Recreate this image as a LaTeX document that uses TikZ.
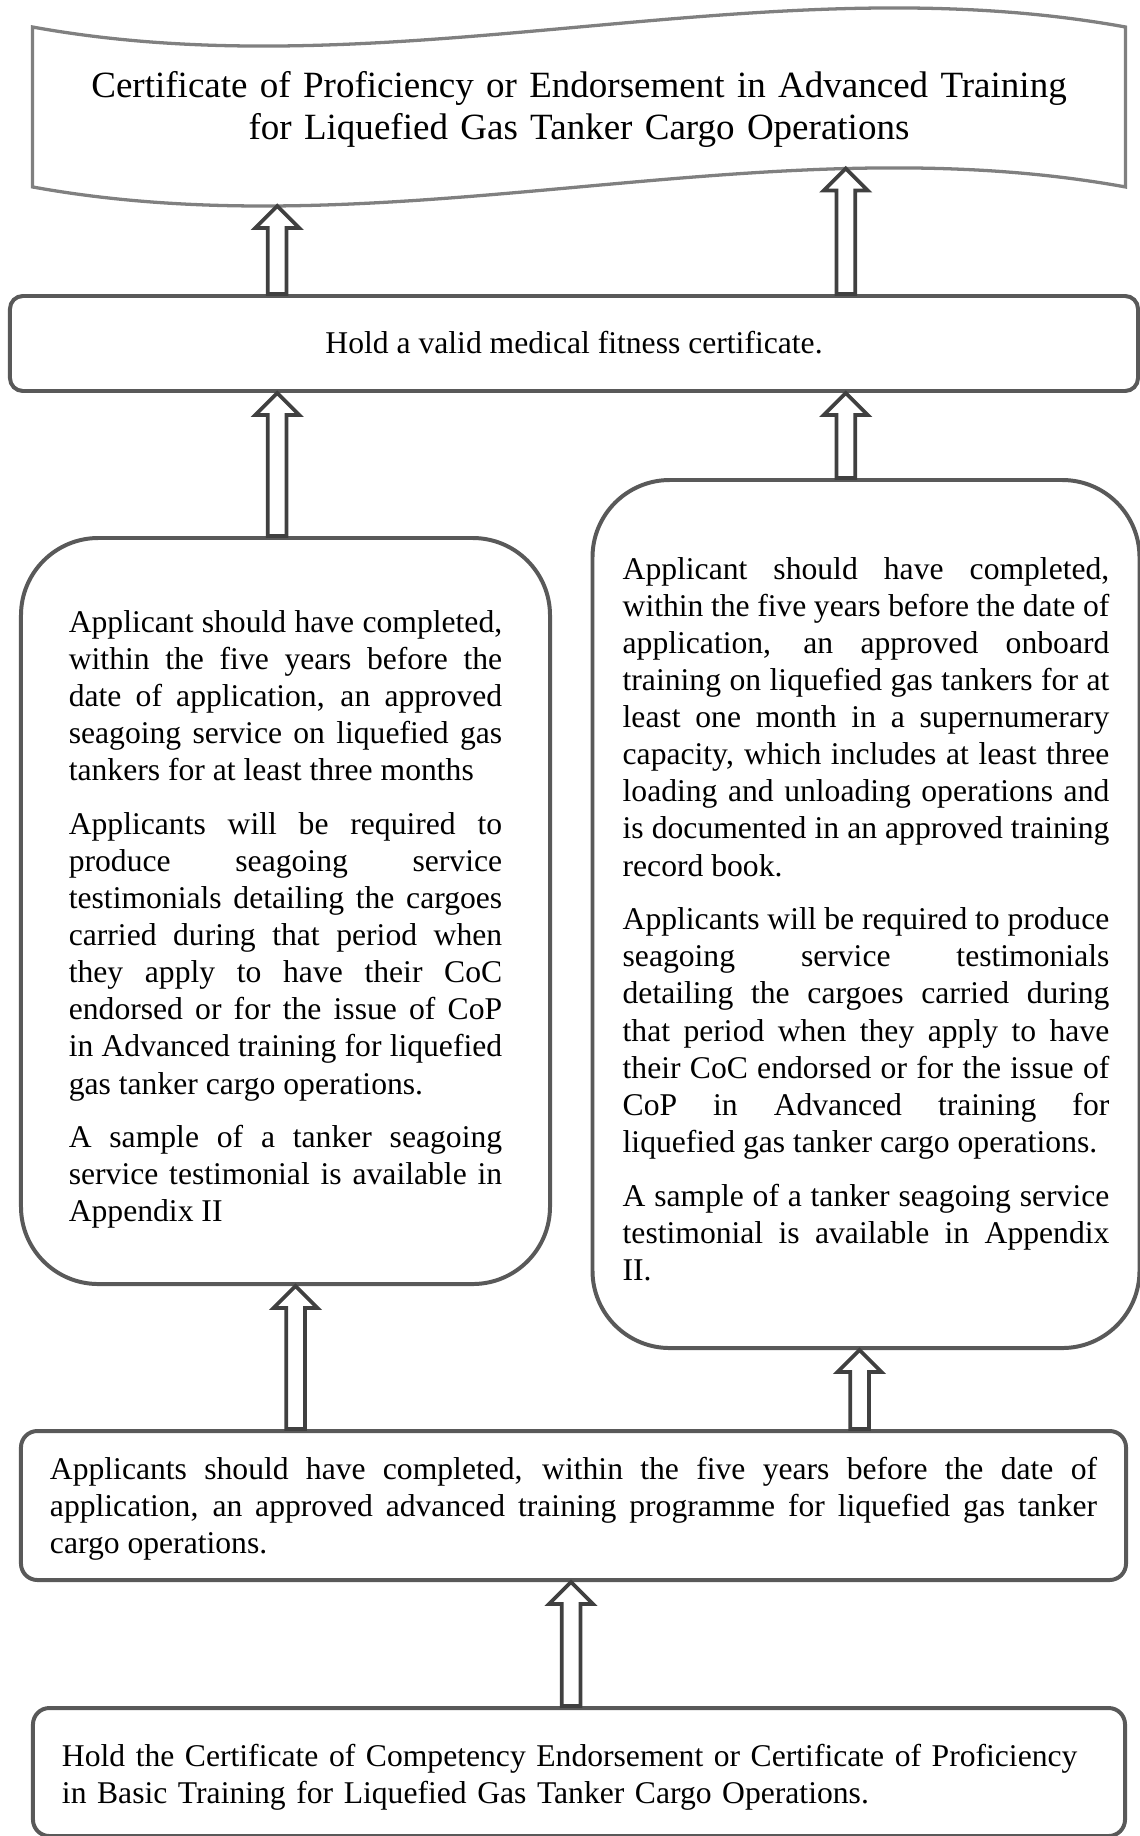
\documentclass[tikz,border=0pt]{standalone}
\usepackage{xcolor}
\usepackage{fontspec}
\setmainfont{Liberation Serif}
\usepackage{tikz}
\usetikzlibrary{calc}
\definecolor{boxgray}{RGB}{89,89,89}
\definecolor{arrowgray}{RGB}{64,64,64}
\definecolor{wavegray}{RGB}{128,128,128}
\hbadness=10000
\newcommand{\blockup}[2]{%
  \draw[blockarrow] let \p1=#1, \p2=#2 in
    (\x1-4pt,\y1) -- (\x1-4pt,\y2-9.4pt) -- (\x1-9.4pt,\y2-9.4pt) -- (\x1,\y2)
    -- (\x1+9.4pt,\y2-9.4pt) -- (\x1+4pt,\y2-9.4pt) -- (\x1+4pt,\y1) -- cycle;}

\begin{document}
\begin{tikzpicture}[x=0.015cm, y=-0.015cm,
    font=\fontsize{13.5pt}{15.85pt}\selectfont,
    box/.style={draw=boxgray, line width=1.7pt, rounded corners=#1,
      inner sep=0pt, anchor=north},
    box/.default=7pt,
    tallbox/.style={box=33pt, align=justify,
      execute at begin node={\setlength{\parskip}{7pt}\tolerance=10000 }},
    wave/.style={draw=wavegray, line width=1.4pt},
    blockarrow/.style={draw=arrowgray, fill=white, line width=1.6pt}]
    \useasboundingbox (0,0) rectangle (1140,1836);

    \node[anchor=north, inner sep=0pt, minimum width=16.38cm, text width=15.7cm,
      align=center, font=\fontsize{15.8pt}{17.9pt}\selectfont,
      text height=1.05cm, text depth=1.335cm] (banner) at (579,27)
      {Certificate of Proficiency or Endorsement in Advanced Training\\
       for Liquefied Gas Tanker Cargo Operations};
    \draw[wave] (banner.north west) .. controls +(364,66) and +(-364,-66) .. (banner.north east)
      -- (banner.south east) .. controls +(-364,-66) and +(364,66) .. (banner.south west)
      coordinate[pos=0.256] (wr) coordinate[pos=0.776] (wl) -- cycle;

    \node[box=5.5pt, minimum width=16.92cm, text height=0.855cm, text depth=0.57cm]
      (medical) at (574,294) {Hold a valid medical fitness certificate.};

    \node[tallbox, minimum width=7.935cm, text width=6.5cm,
      text height=1.41cm, text depth=9.78cm] (leftbox) at (285.5,536)
      {Applicant should have completed,\linebreak
       within the five years before the\linebreak
       date of application, an approved\linebreak
       seagoing service on liquefied gas\linebreak
       tankers for at least three months\par
       Applicants will be required to\linebreak
       produce seagoing service\linebreak
       testimonials detailing the cargoes\linebreak
       carried during that period when\linebreak
       they apply to have their CoC\linebreak
       endorsed or for the issue of CoP\linebreak
       in Advanced training for liquefied\linebreak
       gas tanker cargo operations.\par
       A sample of a tanker seagoing\linebreak
       service testimonial is available in\linebreak
       Appendix II};

    \node[tallbox, minimum width=8.205cm, text width=7.3cm,
      text height=1.485cm, text depth=11.535cm] (rightbox) at (866,478)
      {Applicant should have completed,\linebreak
       within the five years before the date of\linebreak
       application, an approved onboard\linebreak
       training on liquefied gas tankers for at\linebreak
       least one month in a supernumerary\linebreak
       capacity, which includes at least three\linebreak
       loading and unloading operations and\linebreak
       is documented in an approved training\linebreak
       record book.\par
       Applicants will be required to produce\linebreak
       seagoing service testimonials\linebreak
       detailing the cargoes carried during\linebreak
       that period when they apply to have\linebreak
       their CoC endorsed or for the issue of\linebreak
       CoP in Advanced training for\linebreak
       liquefied gas tanker cargo operations.\par
       A sample of a tanker seagoing service\linebreak
       testimonial is available in Appendix\linebreak
       II.};

    \node[box, align=justify, minimum width=16.575cm, text width=15.705cm,
      text height=0.72cm, text depth=1.515cm] (advanced) at (573.5,1429)
      {Applicants should have completed, within the five years before the date of\linebreak
       application, an approved advanced training programme for liquefied gas tanker\linebreak
       cargo operations.};

    \node[box, align=left, minimum width=16.38cm, text width=15.51cm,
      text height=0.87cm, text depth=1.05cm] (basic) at (579,1706)
      {Hold the Certificate of Competency Endorsement or Certificate of Proficiency\\
       in Basic Training for Liquefied Gas Tanker Cargo Operations.};

    \blockup{(medical.north -| wl)}{(wl)}
    \blockup{(medical.north -| wr)}{(wr)}
    \blockup{(leftbox.north -| wl)}{(medical.south)}
    \blockup{(rightbox.north -| wr)}{(medical.south)}
    \blockup{($(advanced.north)+(-278,0)$)}{(leftbox.south)}
    \blockup{($(advanced.north)+(286,0)$)}{(rightbox.south)}
    \blockup{($(basic.north)+(-8,0)$)}{(advanced.south)}
\end{tikzpicture}
\end{document}
